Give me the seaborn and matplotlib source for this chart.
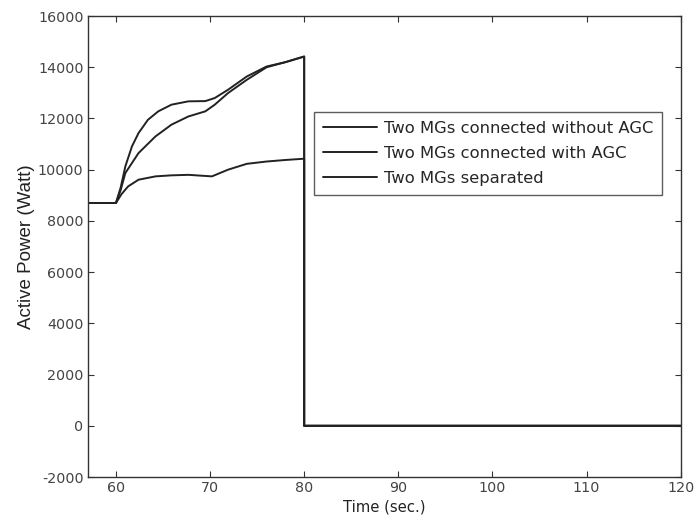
import matplotlib
matplotlib.use("Agg")
import matplotlib.pyplot as plt
import seaborn as sns
import pandas as pd

sns.set_theme(style="white")
plt.rcParams['font.family'] = ['DejaVu Sans']

labels = ["Two MGs connected without AGC", "Two MGs connected with AGC", "Two MGs separated"]

t_no_agc = [57, 60, 60.5, 61.0, 61.7, 62.4, 63.4, 64.5, 65.9, 67.7, 69.5, 70.5, 71.9, 73.9, 76.0, 78.0, 80, 80, 120]
p_no_agc = [8700, 8700, 9300, 10130, 10910, 11430, 11950, 12280, 12540, 12670, 12680, 12800, 13120, 13640, 14030, 14200, 14420, 0, 0]

t_agc = [57, 60, 60.5, 61.0, 62.4, 64.2, 65.9, 67.7, 69.5, 70.5, 71.9, 73.9, 76.0, 78.0, 80, 80, 120]
p_agc = [8700, 8700, 9200, 9870, 10650, 11300, 11760, 12080, 12280, 12540, 12990, 13510, 14000, 14200, 14420, 0, 0]

t_sep = [57, 60, 60.6, 61.3, 62.4, 64.2, 65.9, 67.7, 70.2, 71.9, 73.9, 76.0, 78.0, 80, 80, 120]
p_sep = [8700, 8700, 9050, 9350, 9610, 9740, 9780, 9800, 9740, 10000, 10230, 10320, 10380, 10430, 0, 0]

frames = []
for lab, t, p in zip(labels, [t_no_agc, t_agc, t_sep], [p_no_agc, p_agc, p_sep]):
    frames.append(pd.DataFrame({"t": t, "p": p, "series": lab}))
df = pd.concat(frames, ignore_index=True)

xticks = [60, 70, 80, 90, 100, 110, 120]
yticks = [-2000, 0, 2000, 4000, 6000, 8000, 10000, 12000, 14000, 16000]

fig = plt.figure(figsize=(6.96, 5.25), dpi=100)
ax = fig.add_axes([0.126, 0.0914, 0.852, 0.878])

sns.lineplot(data=df, x="t", y="p", hue="series", hue_order=labels,
             palette=["#222222"] * 3, estimator=None, sort=False, units="series",
             linewidth=1.4, ax=ax)

ax.set_xlim(57, 120)
ax.set_ylim(-2000, 16000)
ax.set_xticks(xticks)
ax.set_yticks(yticks)
ax.set_xticklabels([str(v) for v in xticks], fontsize=10.3, color="#444444")
ax.set_yticklabels([str(v) for v in yticks], fontsize=10.3, color="#444444")
ax.tick_params(direction="in", length=4, top=True, right=True, bottom=True, left=True,
               color="#333333", width=0.8, pad=3)
for s in ax.spines.values():
    s.set_color("#333333")
    s.set_linewidth(1.0)
ax.set_xlabel("Time (sec.)", fontsize=10.7, color="#222222", labelpad=3)
ax.set_ylabel("Active Power (Watt)", fontsize=13.5, color="#222222", labelpad=2,
              family=["Liberation Sans", "DejaVu Sans"])

leg = ax.legend(loc="upper left", bbox_to_anchor=(0.381, 0.792), frameon=True,
                fancybox=False, fontsize=11.8, handlelength=3.3, handletextpad=0.45,
                borderpad=0.55, labelspacing=0.6, borderaxespad=0)
leg.get_frame().set_edgecolor("#333333")
leg.get_frame().set_linewidth(1.0)
for line in leg.get_lines():
    line.set_linewidth(1.4)

fig.savefig("out.png", dpi=100)
